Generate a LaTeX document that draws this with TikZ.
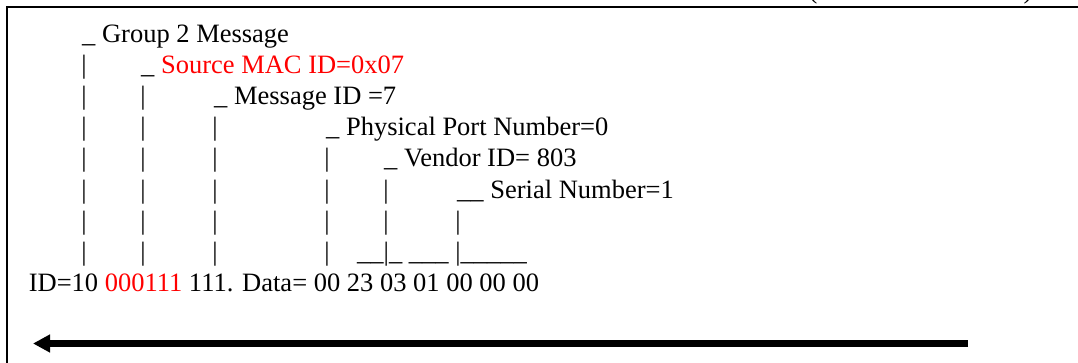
\documentclass[tikz,border=0pt]{standalone}
\usepackage{fontspec}
\setmainfont{Liberation Serif}
\usetikzlibrary{arrows.meta}
\begin{document}
\begin{tikzpicture}[x=1pt,y=-1pt,
  txt/.style={anchor=base west, inner sep=0pt, font=\fontsize{26.5}{30}\selectfont},
  bar/.style={anchor=base, inner sep=0pt, font=\fontsize{26.5}{30}\selectfont},
  frame/.style={line width=1.6pt},
  bigarrow/.style={line width=6.5pt, -{Triangle[length=17pt,width=17pt]}}]
\useasboundingbox (0,0) rectangle (1078,363);
\clip (0,0) rectangle (1078,363);
% frame
\coordinate (fb) at (7,366);
\coordinate (fc) at (7,7);
\coordinate (fr) at (1081,7);
\draw[frame] (fb) -- (fc) -- (fr);
% cut-off glyphs at top
\node[bar] (pl) at (813,-1.5) {(};
\node[bar] (pr) at (1028,-1.5) {)};
% labels
\node[txt] (l1) at (82,43) {\_ Group 2 Message};
\node[txt] (l2) at (141,74) {\_ \textcolor{red}{Source MAC ID=0x07}};
\node[txt] (l3) at (214,105) {\_ Message ID =7};
\node[txt] (l4) at (326,136) {\_ Physical Port Number=0};
\node[txt] (l5) at (384,167) {\_ Vendor ID= 803};
\node[txt] (l6) at (457,198.5) {\_\_ Serial Number=1};
\node[txt] (l8) at (357,260.7) {\_\_|\_ \_\_\_ |\_\_\_\_\_};
\node[txt] (l9) at (28.6,291.8) {ID=10 \textcolor{red}{000111} 111. Data= 00 23 03 01 00 00 00};
% vertical bars
\node[bar] (b2-1) at (84,74) {|};
\foreach \x [count=\i] in {84,143} \node[bar] (b3-\i) at (\x,105) {|};
\foreach \x [count=\i] in {84,143,215} \node[bar] (b4-\i) at (\x,136) {|};
\foreach \x [count=\i] in {84,143,215,327} \node[bar] (b5-\i) at (\x,167) {|};
\foreach \x [count=\i] in {84,143,215,327,386} \node[bar] (b6-\i) at (\x,198.5) {|};
\foreach \x [count=\i] in {84,143,215,327,386,458} \node[bar] (b7-\i) at (\x,229.6) {|};
\foreach \x [count=\i] in {84,143,215,327} \node[bar] (b8-\i) at (\x,260.7) {|};
% arrow
\coordinate (as) at (968,343.5);
\coordinate (ae) at (33,343.5);
\draw[bigarrow] (as) -- (ae);
\end{tikzpicture}
\end{document}
